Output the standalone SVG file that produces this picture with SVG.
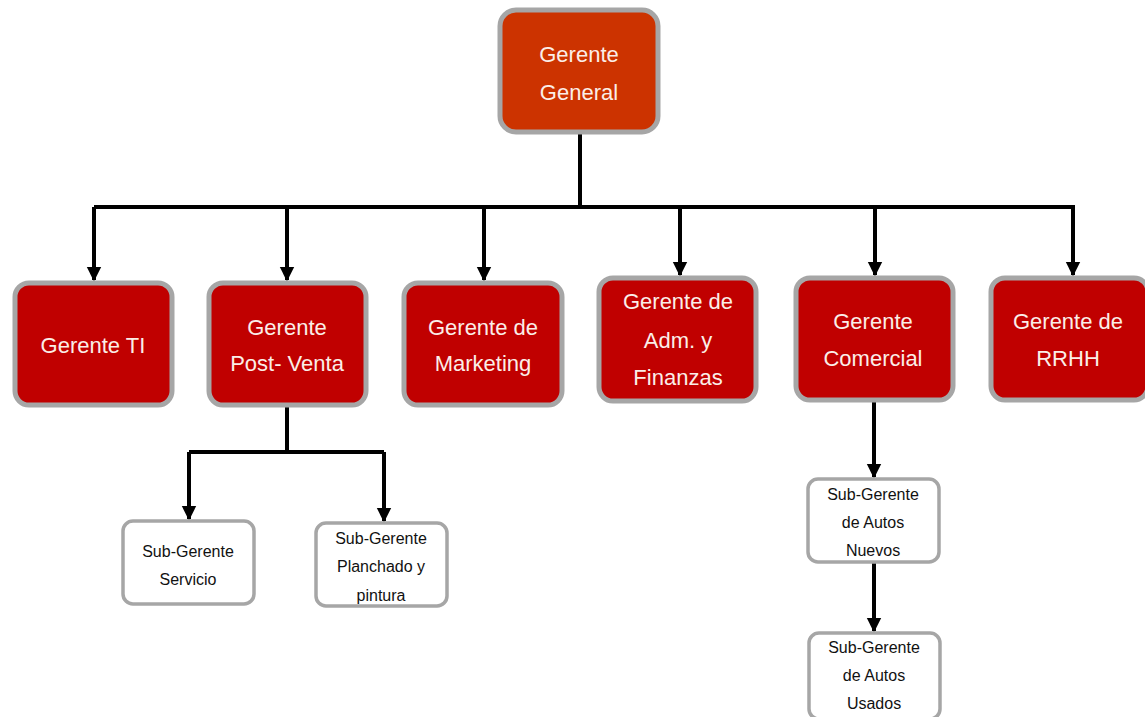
<svg xmlns="http://www.w3.org/2000/svg" width="1145" height="717" viewBox="0 0 1145 717">
  <style>
    .top { fill: #cc3300; stroke: #a6a6a6; stroke-width: 5; }
    .mgr { fill: #c00000; stroke: #a6a6a6; stroke-width: 5; }
    .sub { fill: #ffffff; stroke: #a6a6a6; stroke-width: 3.5; }
    .lt { font-family: "Liberation Sans", Arial, sans-serif; font-size: 22px; fill: #fbeee8; text-anchor: middle; }
    .st { font-family: "Liberation Sans", Arial, sans-serif; font-size: 16px; fill: #111111; text-anchor: middle; }
    .wire { fill: none; stroke: #000000; stroke-width: 4; }
  </style>
  <defs>
    <marker id="arrow" viewBox="0 0 10 10" refX="9" refY="5" markerWidth="3.6" markerHeight="3.8" orient="auto" markerUnits="strokeWidth">
      <path d="M0,0 L10,5 L0,10 Z" fill="#000000"/>
    </marker>
  </defs>

  <rect width="1145" height="717" fill="#ffffff"/>

  <g id="connectors">
    <path class="wire" d="M580,133 V207"/>
    <path class="wire" d="M94,207 H1075"/>
    <path class="wire" d="M94,207 V280" marker-end="url(#arrow)"/>
    <path class="wire" d="M287,207 V280" marker-end="url(#arrow)"/>
    <path class="wire" d="M484,207 V280" marker-end="url(#arrow)"/>
    <path class="wire" d="M680,207 V275" marker-end="url(#arrow)"/>
    <path class="wire" d="M875,207 V275" marker-end="url(#arrow)"/>
    <path class="wire" d="M1073,207 V275" marker-end="url(#arrow)"/>
    <path class="wire" d="M287,405 V452"/>
    <path class="wire" d="M189,452 H384"/>
    <path class="wire" d="M189,452 V519" marker-end="url(#arrow)"/>
    <path class="wire" d="M384,452 V521" marker-end="url(#arrow)"/>
    <path class="wire" d="M874,400 V477" marker-end="url(#arrow)"/>
    <path class="wire" d="M874,562 V631" marker-end="url(#arrow)"/>
  </g>

  <g id="gerente-general">
    <rect class="top" x="500" y="10" width="158" height="122" rx="16"/>
    <text class="lt" x="579" y="62">Gerente</text>
    <text class="lt" x="579" y="100">General</text>
  </g>

  <g id="gerente-ti">
    <rect class="mgr" x="15" y="283" width="157" height="122" rx="14"/>
    <text class="lt" x="93" y="353">Gerente TI</text>
  </g>

  <g id="gerente-post-venta">
    <rect class="mgr" x="209" y="283" width="157" height="122" rx="14"/>
    <text class="lt" x="287" y="335">Gerente</text>
    <text class="lt" x="287" y="371">Post- Venta</text>
  </g>

  <g id="gerente-marketing">
    <rect class="mgr" x="404" y="283" width="158" height="122" rx="14"/>
    <text class="lt" x="483" y="335">Gerente de</text>
    <text class="lt" x="483" y="371">Marketing</text>
  </g>

  <g id="gerente-adm-finanzas">
    <rect class="mgr" x="599" y="278" width="157" height="123" rx="14"/>
    <text class="lt" x="678" y="309">Gerente de</text>
    <text class="lt" x="678" y="348">Adm. y</text>
    <text class="lt" x="678" y="385">Finanzas</text>
  </g>

  <g id="gerente-comercial">
    <rect class="mgr" x="796" y="278" width="157" height="122" rx="14"/>
    <text class="lt" x="873" y="329">Gerente</text>
    <text class="lt" x="873" y="366">Comercial</text>
  </g>

  <g id="gerente-rrhh">
    <rect class="mgr" x="991" y="278" width="157" height="122" rx="14"/>
    <text class="lt" x="1068" y="329">Gerente de</text>
    <text class="lt" x="1068" y="366">RRHH</text>
  </g>

  <g id="sub-servicio">
    <rect class="sub" x="123" y="521" width="131" height="83" rx="10"/>
    <text class="st" x="188" y="557">Sub-Gerente</text>
    <text class="st" x="188" y="585">Servicio</text>
  </g>

  <g id="sub-planchado">
    <rect class="sub" x="316" y="523" width="131" height="83" rx="10"/>
    <text class="st" x="381" y="544">Sub-Gerente</text>
    <text class="st" x="381" y="572">Planchado y</text>
    <text class="st" x="381" y="601">pintura</text>
  </g>

  <g id="sub-autos-nuevos">
    <rect class="sub" x="808" y="479" width="131" height="83" rx="10"/>
    <text class="st" x="873" y="500">Sub-Gerente</text>
    <text class="st" x="873" y="528">de Autos</text>
    <text class="st" x="873" y="556">Nuevos</text>
  </g>

  <g id="sub-autos-usados">
    <rect class="sub" x="809" y="633" width="131" height="86" rx="10"/>
    <text class="st" x="874" y="653">Sub-Gerente</text>
    <text class="st" x="874" y="681">de Autos</text>
    <text class="st" x="874" y="709">Usados</text>
  </g>
</svg>
